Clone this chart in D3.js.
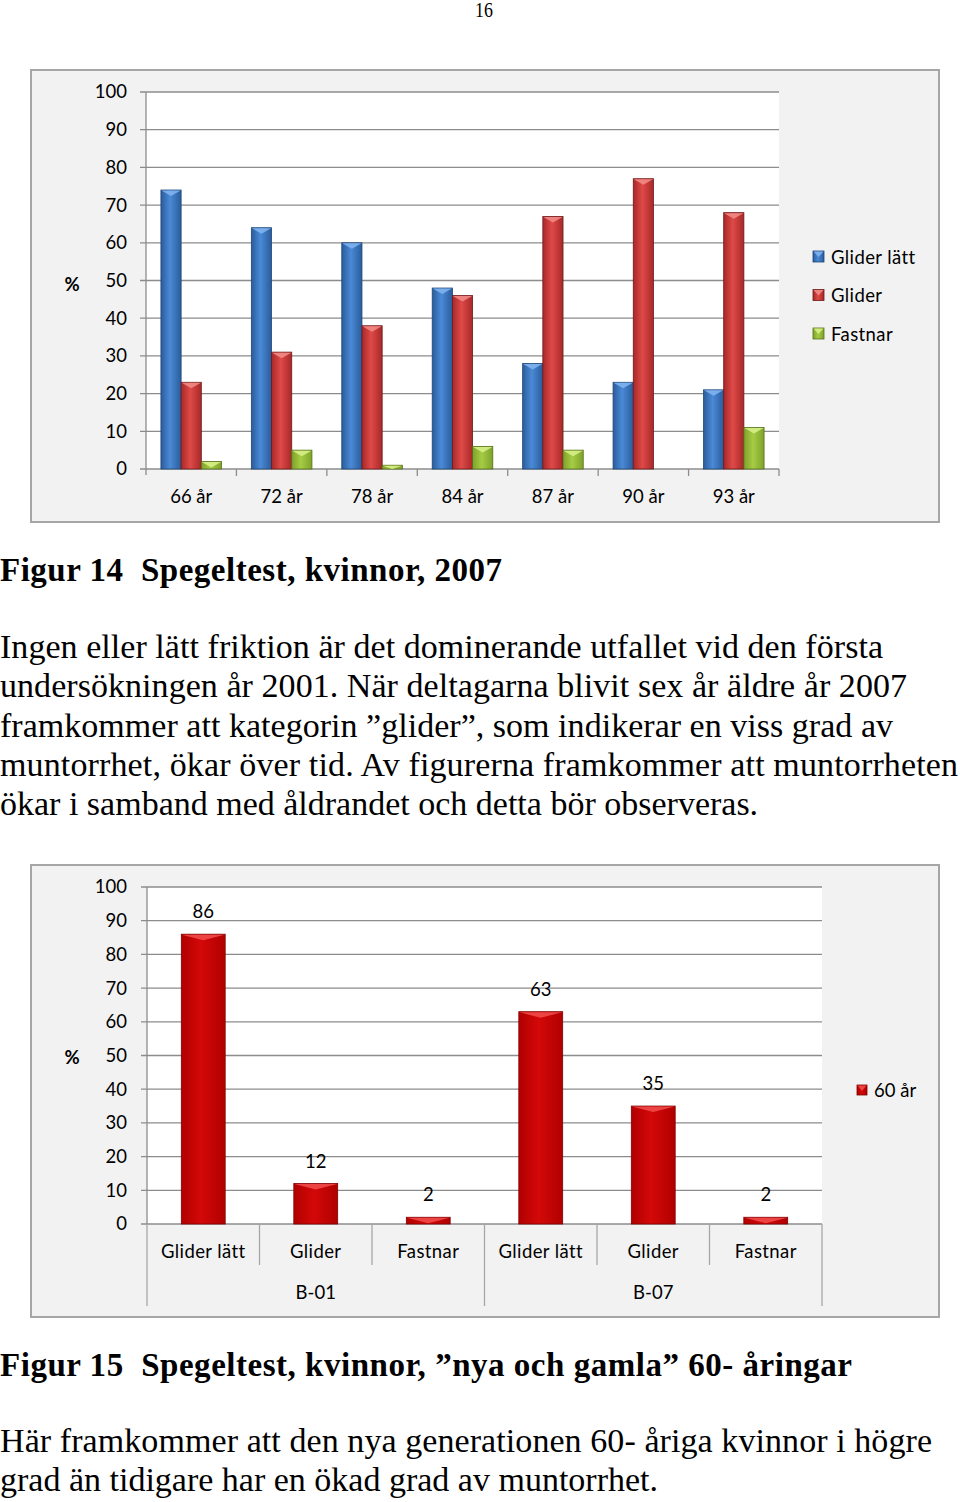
<!DOCTYPE html>
<html><head><meta charset="utf-8">
<script src="https://cdn.jsdelivr.net/npm/d3@7"></script>
<style>
html,body{margin:0;padding:0;background:#fff;}
svg{display:block;}
</style></head>
<body>
<script>
// ---------- DATA ----------
const ageCategories = ["66 år","72 år","78 år","84 år","87 år","90 år","93 år"];
const seriesNames = ["Glider lätt","Glider","Fastnar"];
const gliderLatt = [74,64,60,48,28,23,21];
const glider = [23,31,38,46,67,77,68];
const fastnar = [2,5,1,6,5,0,11];
const yTicks = [0,10,20,30,40,50,60,70,80,90,100];

const groupNames = ["B-01","B-07"];
const subCategories = ["Glider lätt","Glider","Fastnar"];
const values60 = [[86,12,2],[63,35,2]];
const series2Name = "60 år";

const pageNumber = "16";
const caption14 = "Figur 14  Spegeltest, kvinnor, 2007";
const para1 = [
 "Ingen eller lätt friktion är det dominerande utfallet vid den första",
 "undersökningen år 2001. När deltagarna blivit sex år äldre år 2007",
 "framkommer att kategorin ”glider”, som indikerar en viss grad av",
 "muntorrhet, ökar över tid. Av figurerna framkommer att muntorrheten",
 "ökar i samband med åldrandet och detta bör observeras."
];
const para1Widths = [883,907,893,958,null];
const caption15 = "Figur 15  Spegeltest, kvinnor, ”nya och gamla” 60- åringar";
const para2 = [
 "Här framkommer att den nya generationen 60- åriga kvinnor i högre",
 "grad än tidigare har en ökad grad av muntorrhet."
];
const para2Widths = [932,null];

// ---------- SETUP ----------
const W = 960, H = 1502;
const svg = d3.select("body").append("svg").attr("width", W).attr("height", H);
const defs = svg.append("defs");
const sans = "Lato, 'Open Sans', sans-serif";
const serif = "'Liberation Serif', 'Times New Roman', serif";
const fs = 18.5;

function makeGrad(id, edge, mid) {
  const g = defs.append("linearGradient").attr("id", id).attr("x1","0").attr("x2","1").attr("y1","0").attr("y2","0");
  g.append("stop").attr("offset","0%").attr("stop-color", edge);
  g.append("stop").attr("offset","45%").attr("stop-color", mid);
  g.append("stop").attr("offset","100%").attr("stop-color", edge);
}
const palette = {
  "Glider lätt": {grad:"gBlue", edge:"#2a5c9c", mid:"#4a8ad6", cap:"#7fb2ee", stroke:"#1f4676"},
  "Glider":      {grad:"gRed",  edge:"#a82828", mid:"#de4a48", cap:"#f08a86", stroke:"#6e1a1a"},
  "Fastnar":     {grad:"gGreen",edge:"#7ea22c", mid:"#a6cc44", cap:"#d6ee86", stroke:"#557019"}
};
Object.values(palette).forEach(p => makeGrad(p.grad, p.edge, p.mid));
const red2 = {grad:"gRed2", edge:"#b00000", mid:"#d40808", cap:"#f04a4a", stroke:"#800000"};
makeGrad(red2.grad, red2.edge, red2.mid);

function drawBar(g, x, y, w, h, p) {
  if (h <= 0) return;
  g.append("rect").attr("x", x).attr("y", y).attr("width", w).attr("height", h)
    .attr("fill", `url(#${p.grad})`).attr("stroke", p.stroke).attr("stroke-width", 0.8);
  const d = Math.min(6, h);
  g.append("path")
    .attr("d", `M${x+0.5},${y+0.5} L${x+w-0.5},${y+0.5} L${x+w/2},${y+d} Z`)
    .attr("fill", p.cap).attr("opacity", 0.9);
}

// ---------- PAGE NUMBER ----------
svg.append("text").attr("x", 484).attr("y", 17).attr("text-anchor","middle")
  .attr("font-family", serif).attr("font-size", 21).attr("fill","#000")
  .attr("transform","translate(484,0) scale(0.85,1) translate(-484,0)")
  .text(pageNumber);

// ---------- CHART 1 ----------
const c1 = svg.append("g");
c1.append("rect").attr("x",31).attr("y",70).attr("width",908).attr("height",452)
  .attr("fill","#f2f2f2").attr("stroke","#a6a6a6").attr("stroke-width",2);
const x1 = d3.scaleBand().domain(ageCategories).range([146, 779]).paddingInner(0.33).paddingOuter(0.165);
const xs1 = d3.scaleBand().domain(seriesNames).range([0, x1.bandwidth()]);
const y1 = d3.scaleLinear().domain([0,100]).range([469, 92]);

c1.append("rect").attr("x",146).attr("y",y1(100)).attr("width",779-146).attr("height",y1(0)-y1(100)).attr("fill","#fff");
c1.append("g").selectAll("line").data(yTicks).join("line")
  .attr("x1",140).attr("x2",779).attr("y1",d=>y1(d)).attr("y2",d=>y1(d))
  .attr("stroke","#8c8c8c").attr("stroke-width",1.3);
const ya1 = c1.append("g").attr("transform","translate(127,0)").call(d3.axisLeft(y1).tickValues(yTicks).tickSize(0).tickPadding(0));
ya1.select(".domain").remove();
ya1.selectAll("text").attr("font-family", sans).attr("font-size",fs).attr("fill","#000");
c1.append("line").attr("x1",146).attr("x2",146).attr("y1",y1(100)).attr("y2",y1(0)+6).attr("stroke","#8c8c8c").attr("stroke-width",1.3);
const bounds1 = ageCategories.map((c,i)=> 146 + i*x1.step()).concat([779]);
c1.append("g").selectAll("line").data(bounds1.slice(1)).join("line")
  .attr("x1",d=>d).attr("x2",d=>d).attr("y1",y1(0)).attr("y2",y1(0)+7)
  .attr("stroke","#8c8c8c").attr("stroke-width",1.3);
const xa1 = c1.append("g").attr("transform",`translate(0,${y1(0)+34})`).call(d3.axisBottom(x1).tickSize(0).tickPadding(0));
xa1.select(".domain").remove();
xa1.selectAll("text").attr("font-family", sans).attr("font-size",fs).attr("fill","#000").attr("dy",0);
const seriesVals = {"Glider lätt": gliderLatt, "Glider": glider, "Fastnar": fastnar};
const barsG1 = c1.append("g");
ageCategories.forEach((cat,i)=>{
  seriesNames.forEach(s=>{
    const v = seriesVals[s][i];
    drawBar(barsG1, x1(cat)+xs1(s), y1(v), xs1.bandwidth(), y1(0)-y1(v), palette[s]);
  });
});
c1.append("text").attr("x",72).attr("y",291).attr("text-anchor","middle")
  .attr("font-family",sans).attr("font-size",fs).attr("font-weight","bold").text("%");
const leg1 = c1.append("g");
seriesNames.forEach((s,i)=>{
  const yy = 257 + i*38.5;
  drawBar(leg1, 813, yy-6, 11, 11, palette[s]);
  leg1.append("text").attr("x",831).attr("y",yy+6.5).attr("font-family",sans).attr("font-size",fs)
    .attr("letter-spacing",0.4).text(s);
});

// ---------- TEXT 1 ----------
svg.append("text").attr("x",0).attr("y",581).attr("font-family",serif).attr("font-weight","bold")
  .attr("font-size",33).style("white-space","pre").attr("textLength",502).attr("lengthAdjust","spacing").text(caption14);
para1.forEach((t,i)=>{
  const tx = svg.append("text").attr("x",0).attr("y",658 + i*39.3).attr("font-family",serif).attr("font-size",34).text(t);
  if (para1Widths[i]) tx.attr("textLength",para1Widths[i]).attr("lengthAdjust","spacing");
});

// ---------- CHART 2 ----------
const c2 = svg.append("g");
c2.append("rect").attr("x",31).attr("y",865).attr("width",908).attr("height",452)
  .attr("fill","#f2f2f2").attr("stroke","#a6a6a6").attr("stroke-width",2);
const keys2 = [];
groupNames.forEach(g=>subCategories.forEach(s=>keys2.push(g+"|"+s)));
const x2 = d3.scaleBand().domain(keys2).range([147, 822]).paddingInner(0.61).paddingOuter(0.305);
const y2 = d3.scaleLinear().domain([0,100]).range([1224, 887]);
c2.append("rect").attr("x",147).attr("y",y2(100)).attr("width",822-147).attr("height",y2(0)-y2(100)).attr("fill","#fff");
c2.append("g").selectAll("line").data(yTicks).join("line")
  .attr("x1",141).attr("x2",822).attr("y1",d=>y2(d)).attr("y2",d=>y2(d))
  .attr("stroke","#8c8c8c").attr("stroke-width",1.3);
const ya2 = c2.append("g").attr("transform","translate(127,0)").call(d3.axisLeft(y2).tickValues(yTicks).tickSize(0).tickPadding(0));
ya2.select(".domain").remove();
ya2.selectAll("text").attr("font-family", sans).attr("font-size",fs).attr("fill","#000");
c2.append("line").attr("x1",147).attr("x2",147).attr("y1",y2(100)).attr("y2",y2(0)).attr("stroke","#8c8c8c").attr("stroke-width",1.3);
const step2 = x2.step();
keys2.forEach((k,i)=>{
  const xb = 147 + i*step2;
  const isGroup = (i % subCategories.length) === 0;
  c2.append("line").attr("x1",xb).attr("x2",xb).attr("y1",y2(0)).attr("y2", isGroup ? 1306 : 1265)
    .attr("stroke","#a6a6a6").attr("stroke-width",1.3);
});
c2.append("line").attr("x1",822).attr("x2",822).attr("y1",y2(0)).attr("y2",1306).attr("stroke","#a6a6a6").attr("stroke-width",1.3);
const xa2 = c2.append("g").attr("transform",`translate(0,${y2(0)+34})`)
  .call(d3.axisBottom(x2).tickSize(0).tickPadding(0).tickFormat(d=>d.split("|")[1]));
xa2.select(".domain").remove();
xa2.selectAll("text").attr("font-family", sans).attr("font-size",fs).attr("fill","#000").attr("dy",0).attr("letter-spacing",0.4);
groupNames.forEach((g,gi)=>{
  const xs = x2(g+"|"+subCategories[0]), xe = x2(g+"|"+subCategories[subCategories.length-1]) + x2.bandwidth();
  c2.append("text").attr("x",(xs+xe)/2).attr("y",1299).attr("text-anchor","middle")
    .attr("font-family",sans).attr("font-size",fs).text(g);
});
const barsG2 = c2.append("g");
groupNames.forEach((g,gi)=>{
  subCategories.forEach((s,si)=>{
    const v = values60[gi][si];
    const k = g+"|"+s;
    drawBar(barsG2, x2(k), y2(v), x2.bandwidth(), y2(0)-y2(v), red2);
    barsG2.append("text").attr("x", x2(k)+x2.bandwidth()/2).attr("y", y2(v)-16)
      .attr("text-anchor","middle").attr("font-family",sans).attr("font-size",fs).text(v);
  });
});
c2.append("text").attr("x",72).attr("y",1064).attr("text-anchor","middle")
  .attr("font-family",sans).attr("font-size",fs).attr("font-weight","bold").text("%");
drawBar(c2, 857, 1085, 10, 10, red2);
c2.append("text").attr("x",874).attr("y",1097).attr("font-family",sans).attr("font-size",fs).text(series2Name);

// ---------- TEXT 2 ----------
svg.append("text").attr("x",0).attr("y",1376).attr("font-family",serif).attr("font-weight","bold")
  .attr("font-size",33).style("white-space","pre").attr("textLength",852).attr("lengthAdjust","spacing").text(caption15);
para2.forEach((t,i)=>{
  const tx = svg.append("text").attr("x",0).attr("y",1452 + i*39.3).attr("font-family",serif).attr("font-size",34).text(t);
  if (para2Widths[i]) tx.attr("textLength",para2Widths[i]).attr("lengthAdjust","spacing");
});
</script>
</body></html>
